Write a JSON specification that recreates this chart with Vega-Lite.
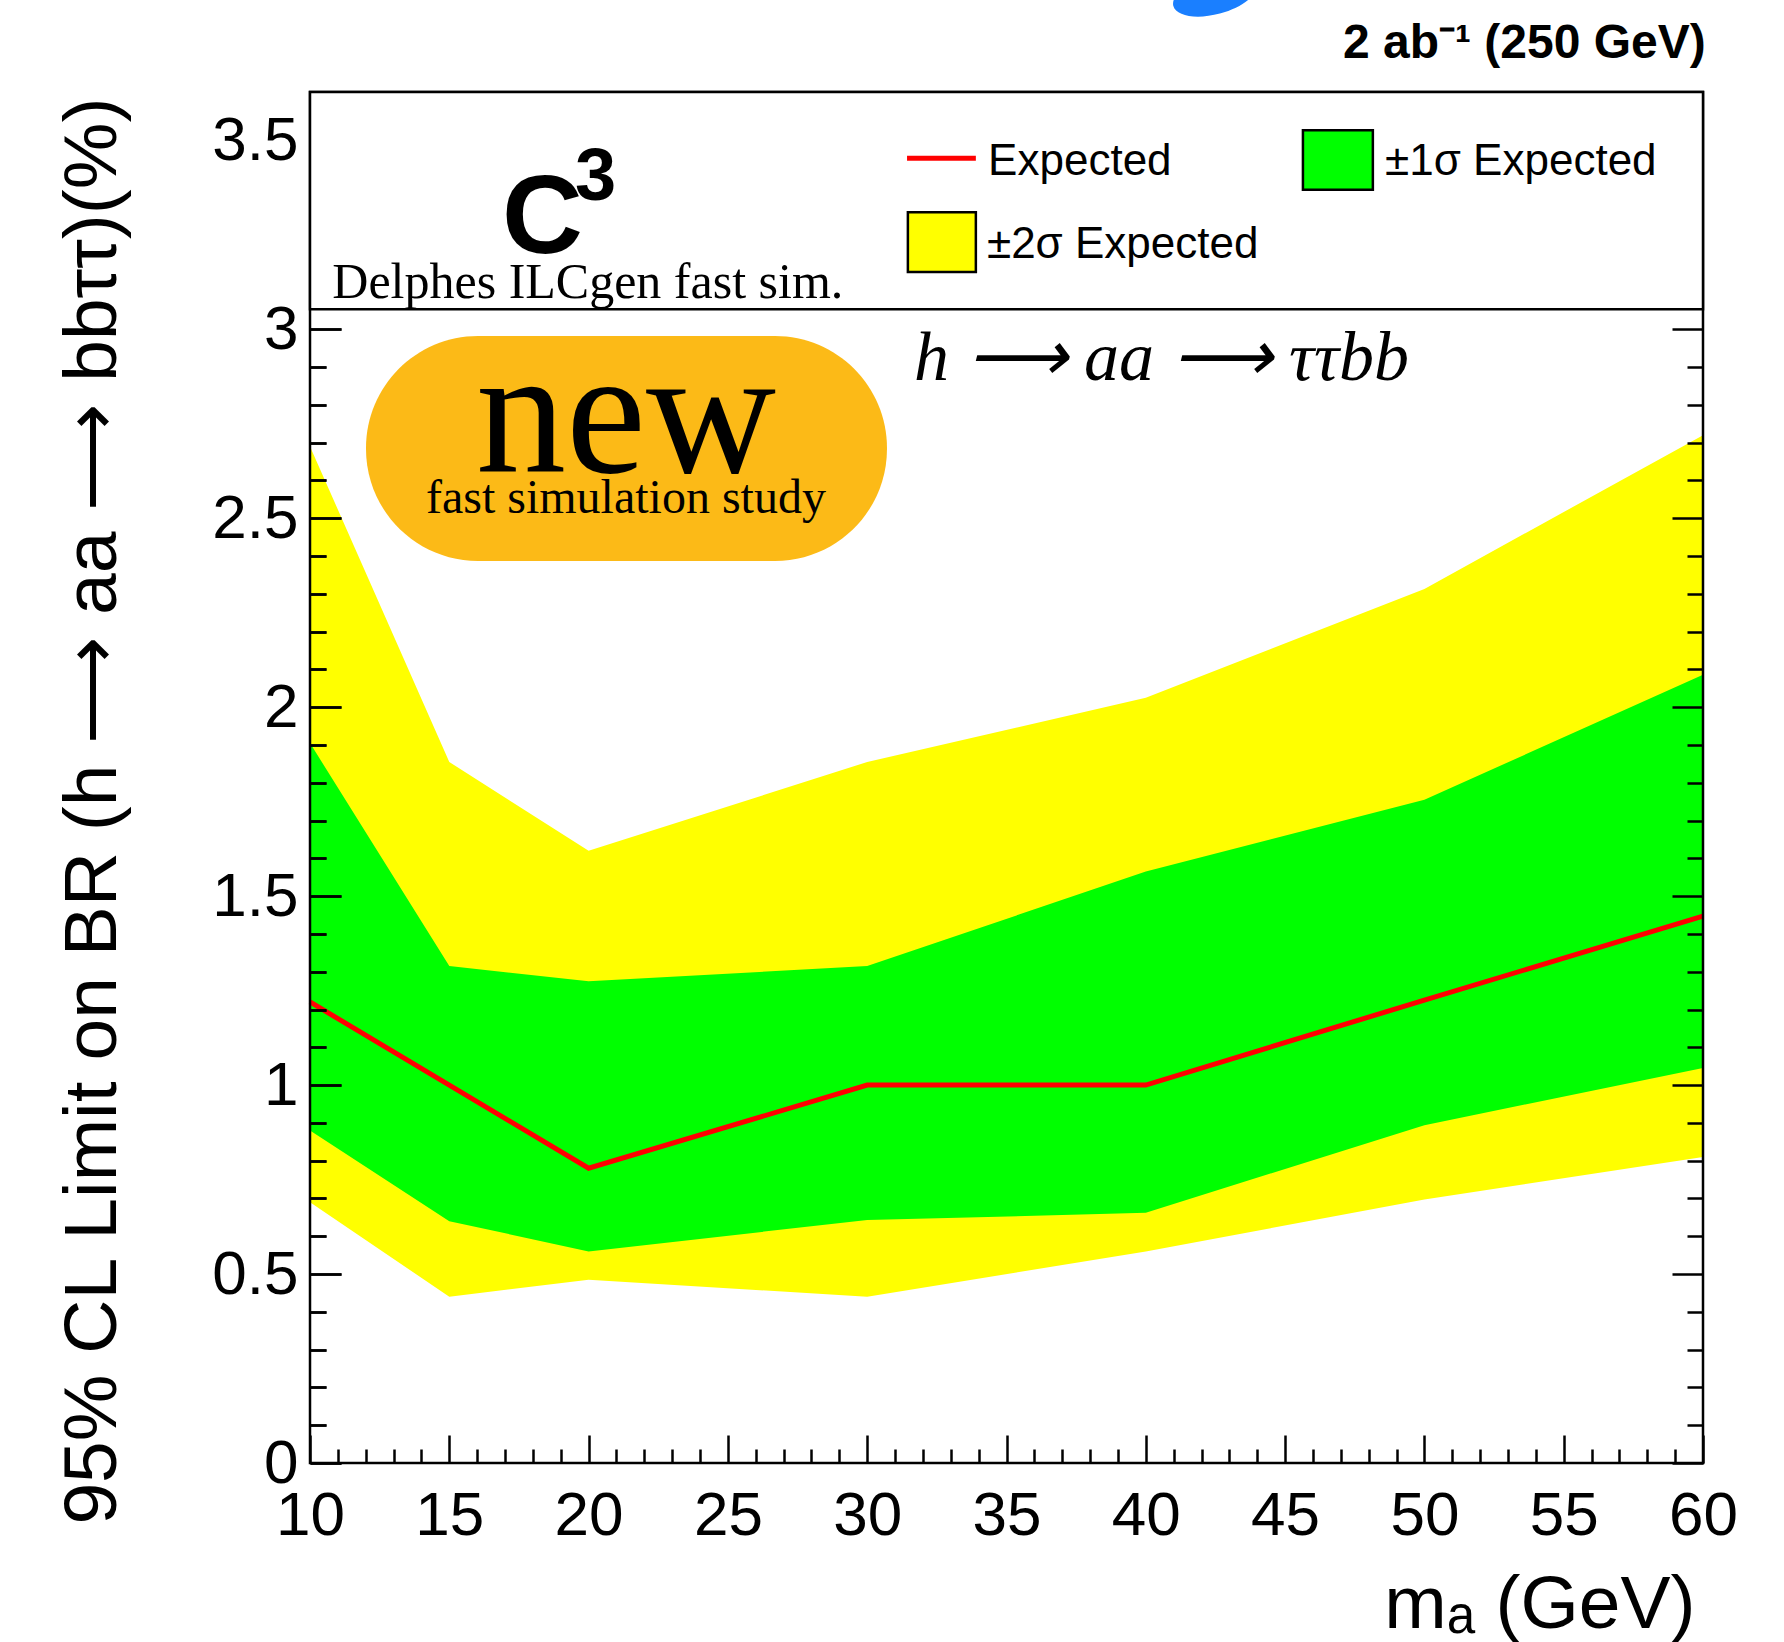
{
  "$schema": "https://vega.github.io/schema/vega-lite/v6.json",
  "width": 1393,
  "height": 1371,
  "autosize": {"type": "none"},
  "padding": {"left": 310, "top": 92, "right": 81, "bottom": 179},
  "background": "white",
  "config": {"view": {"stroke": null}},
  "data": {
    "values": [
      {"m": 10, "lo2": 0.69, "lo1": 0.88, "exp": 1.22, "hi1": 1.905, "hi2": 2.69},
      {"m": 15, "lo2": 0.44, "lo1": 0.64, "exp": 1.0, "hi1": 1.315, "hi2": 1.855},
      {"m": 20, "lo2": 0.485, "lo1": 0.56, "exp": 0.78, "hi1": 1.275, "hi2": 1.62},
      {"m": 30, "lo2": 0.44, "lo1": 0.643, "exp": 1.0, "hi1": 1.315, "hi2": 1.855},
      {"m": 40, "lo2": 0.56, "lo1": 0.662, "exp": 1.0, "hi1": 1.565, "hi2": 2.025},
      {"m": 50, "lo2": 0.697, "lo1": 0.894, "exp": 1.225, "hi1": 1.755, "hi2": 2.313},
      {"m": 60, "lo2": 0.81, "lo1": 1.045, "exp": 1.447, "hi1": 2.086, "hi2": 2.72}
    ]
  },
  "resolve": {"axis": {"x": "independent", "y": "independent"}},
  "layer": [
    {
      "mark": {"type": "area", "color": "#FFFF00", "interpolate": "linear"},
      "encoding": {
        "x": {
          "field": "m", "type": "quantitative",
          "scale": {"domain": [10, 60], "nice": false, "zero": false},
          "axis": {
            "orient": "bottom",
            "values": [10,11,12,13,14,15,16,17,18,19,20,21,22,23,24,25,26,27,28,29,30,31,32,33,34,35,36,37,38,39,40,41,42,43,44,45,46,47,48,49,50,51,52,53,54,55,56,57,58,59,60],
            "tickSize": {"condition": {"test": "abs(datum.value/5 - round(datum.value/5)) < 0.001", "value": -28}, "value": -14},
            "tickWidth": 2.5, "tickColor": "black",
            "labelExpr": "abs(datum.value/5 - round(datum.value/5)) < 0.001 ? '' + datum.value : ''",
            "labelFont": "Liberation Sans", "labelFontSize": 62, "labelPadding": 50, "labelColor": "black",
            "labelOverlap": false, "labelBound": false, "labelFlush": false,
            "domain": false,
            "grid": false,
            "title": "mₐ (GeV)",
            "titleFont": "Liberation Sans", "titleFontSize": 75, "titleFontWeight": "normal", "titleColor": "black",
            "titleAnchor": "end", "titleAlign": "right", "titleBaseline": "alphabetic",
            "titleX": 1385, "titleY": 164,
            "zindex": 1
          }
        },
        "y": {
          "field": "lo2", "type": "quantitative",
          "scale": {"domain": [0, 3.628], "nice": false, "zero": false},
          "axis": {
            "orient": "left",
            "values": [0,0.1,0.2,0.3,0.4,0.5,0.6,0.7,0.8,0.9,1,1.1,1.2,1.3,1.4,1.5,1.6,1.7,1.8,1.9,2,2.1,2.2,2.3,2.4,2.5,2.6,2.7,2.8,2.9,3,3.5],
            "tickSize": {"condition": {"test": "abs(datum.value*2 - round(datum.value*2)) < 0.001", "value": -31}, "value": -16},
            "tickOpacity": {"condition": {"test": "datum.value > 3.2", "value": 0}, "value": 1},
            "tickWidth": 2.5, "tickColor": "black",
            "grid": true,
            "gridColor": "black", "gridWidth": 2.5,
            "gridDash": {"condition": {"test": "abs(datum.value*2 - round(datum.value*2)) < 0.001", "value": [31, 1331, 31]}, "value": [16, 1361, 16]},
            "gridOpacity": {"condition": {"test": "datum.value > 3.2", "value": 0}, "value": 1},
            "labelExpr": "abs(datum.value*2 - round(datum.value*2)) < 0.001 ? '' + datum.value : ''",
            "labelFont": "Liberation Sans", "labelFontSize": 62, "labelPadding": 43, "labelColor": "black",
            "labelOverlap": false, "labelBound": false, "labelFlush": false,
            "domain": false,
            "title": "95% CL Limit on BR (h  ⟶ aa ⟶ bbττ)(%)",
            "titleFont": "Liberation Sans", "titleFontSize": 75, "titleFontWeight": "normal", "titleColor": "black",
            "titleAnchor": "end", "titleAlign": "right", "titleBaseline": "alphabetic", "titleAngle": -90,
            "titleX": -195, "titleY": 5,
            "zindex": 1
          }
        },
        "y2": {"field": "hi2"}
      }
    },
    {
      "mark": {"type": "area", "color": "#00FF00", "interpolate": "linear"},
      "encoding": {
        "x": {"field": "m", "type": "quantitative", "scale": {"domain": [10, 60], "nice": false, "zero": false}, "axis": null},
        "y": {"field": "lo1", "type": "quantitative", "scale": {"domain": [0, 3.628], "nice": false, "zero": false}, "axis": null},
        "y2": {"field": "hi1"}
      }
    },
    {
      "mark": {"type": "line", "color": "#FF0000", "strokeWidth": 5},
      "encoding": {
        "x": {"field": "m", "type": "quantitative", "scale": {"domain": [10, 60], "nice": false, "zero": false}, "axis": null},
        "y": {"field": "exp", "type": "quantitative", "scale": {"domain": [0, 3.628], "nice": false, "zero": false}, "axis": null}
      }
    },
    {
      "data": {"values": [{}]},
      "mark": {"type": "rect", "fill": null, "filled": false, "stroke": "black", "strokeWidth": 2.5},
      "encoding": {
        "x": {"datum": 10, "type": "quantitative", "axis": null},
        "x2": {"datum": 60},
        "y": {"datum": 0, "type": "quantitative", "axis": null},
        "y2": {"datum": 3.628}
      }
    },
    {
      "data": {"values": [{}]},
      "mark": {"type": "rect", "fill": "white", "stroke": "black", "strokeWidth": 2.5},
      "encoding": {
        "x": {"datum": 10, "type": "quantitative", "axis": null},
        "x2": {"datum": 60},
        "y": {"datum": 3.053, "type": "quantitative", "axis": null},
        "y2": {"datum": 3.628}
      }
    },
    {
      "data": {"values": [{}]},
      "mark": {"type": "rect", "fill": "#FCBA17", "cornerRadius": 112},
      "encoding": {
        "x": {"datum": 12.01, "type": "quantitative", "axis": null},
        "x2": {"datum": 30.71},
        "y": {"datum": 2.387, "type": "quantitative", "axis": null},
        "y2": {"datum": 2.982}
      }
    },
    {
      "data": {"values": [{}]},
      "mark": {"type": "text", "text": "new", "font": "Liberation Serif", "fontSize": 180, "align": "center", "baseline": "alphabetic", "color": "black"},
      "encoding": {
        "x": {"datum": 21.34, "type": "quantitative", "axis": null},
        "y": {"datum": 2.622, "type": "quantitative", "axis": null}
      }
    },
    {
      "data": {"values": [{}]},
      "mark": {"type": "text", "text": "fast simulation study", "font": "Liberation Serif", "fontSize": 48, "align": "center", "baseline": "alphabetic", "color": "black"},
      "encoding": {
        "x": {"datum": 21.34, "type": "quantitative", "axis": null},
        "y": {"datum": 2.514, "type": "quantitative", "axis": null}
      }
    },
    {
      "data": {"values": [{}]},
      "mark": {"type": "text", "text": "h ⟶ aa ⟶ ττbb", "font": "Liberation Serif", "fontStyle": "italic", "fontSize": 70, "align": "left", "baseline": "alphabetic", "color": "black"},
      "encoding": {
        "x": {"datum": 31.68, "type": "quantitative", "axis": null},
        "y": {"datum": 2.866, "type": "quantitative", "axis": null}
      }
    },
    {
      "data": {"values": [{}]},
      "mark": {"type": "text", "text": "C", "font": "Liberation Sans", "fontWeight": "bold", "fontSize": 112, "align": "left", "baseline": "alphabetic", "color": "black"},
      "encoding": {
        "x": {"datum": 16.89, "type": "quantitative", "axis": null},
        "y": {"datum": 3.202, "type": "quantitative", "axis": null}
      }
    },
    {
      "data": {"values": [{}]},
      "mark": {"type": "text", "text": "3", "font": "Liberation Sans", "fontWeight": "bold", "fontSize": 74, "align": "left", "baseline": "alphabetic", "color": "black"},
      "encoding": {
        "x": {"datum": 19.51, "type": "quantitative", "axis": null},
        "y": {"datum": 3.342, "type": "quantitative", "axis": null}
      }
    },
    {
      "data": {"values": [{}]},
      "mark": {"type": "text", "text": "Delphes ILCgen fast sim.", "font": "Liberation Serif", "fontSize": 50, "align": "left", "baseline": "alphabetic", "color": "black"},
      "encoding": {
        "x": {"datum": 10.8, "type": "quantitative", "axis": null},
        "y": {"datum": 3.083, "type": "quantitative", "axis": null}
      }
    },
    {
      "data": {"values": [{}]},
      "mark": {"type": "rule", "color": "#FF0000", "strokeWidth": 5},
      "encoding": {
        "x": {"datum": 31.43, "type": "quantitative", "axis": null},
        "x2": {"datum": 33.9},
        "y": {"datum": 3.453, "type": "quantitative", "axis": null}
      }
    },
    {
      "data": {"values": [{}]},
      "mark": {"type": "rect", "fill": "#00FF00", "stroke": "black", "strokeWidth": 2.5},
      "encoding": {
        "x": {"datum": 45.64, "type": "quantitative", "axis": null},
        "x2": {"datum": 48.15},
        "y": {"datum": 3.369, "type": "quantitative", "axis": null},
        "y2": {"datum": 3.527}
      }
    },
    {
      "data": {"values": [{}]},
      "mark": {"type": "rect", "fill": "#FFFF00", "stroke": "black", "strokeWidth": 2.5},
      "encoding": {
        "x": {"datum": 31.46, "type": "quantitative", "axis": null},
        "x2": {"datum": 33.9},
        "y": {"datum": 3.152, "type": "quantitative", "axis": null},
        "y2": {"datum": 3.31}
      }
    },
    {
      "data": {"values": [{"t": "Expected", "px": 34.34, "py": 3.408}, {"t": "±1σ Expected", "px": 48.59, "py": 3.408}, {"t": "±2σ Expected", "px": 34.3, "py": 3.189}]},
      "mark": {"type": "text", "font": "Liberation Sans", "fontSize": 44, "align": "left", "baseline": "alphabetic", "color": "black"},
      "encoding": {
        "x": {"field": "px", "type": "quantitative", "axis": null},
        "y": {"field": "py", "type": "quantitative", "axis": null},
        "text": {"field": "t"}
      }
    },
    {
      "data": {"values": [{}]},
      "mark": {"type": "text", "text": "2 ab⁻¹ (250 GeV)", "font": "Liberation Sans", "fontWeight": "bold", "fontSize": 48, "align": "right", "baseline": "alphabetic", "color": "black"},
      "encoding": {
        "x": {"datum": 60.1, "type": "quantitative", "axis": null},
        "y": {"datum": 3.718, "type": "quantitative", "axis": null}
      }
    },
    {
      "data": {"values": [{}]},
      "mark": {"type": "point", "filled": true, "color": "#1A7FFF", "opacity": 1, "strokeWidth": 0, "size": 7396, "shape": "M -0.966 0.259 A 1 0.45 -15 1 0 0.966 -0.259 A 1 0.45 -15 1 0 -0.966 0.259 Z"},
      "encoding": {
        "x": {"datum": 42.48, "type": "quantitative", "axis": null},
        "y": {"datum": 3.885, "type": "quantitative", "axis": null}
      }
    }
  ]
}
